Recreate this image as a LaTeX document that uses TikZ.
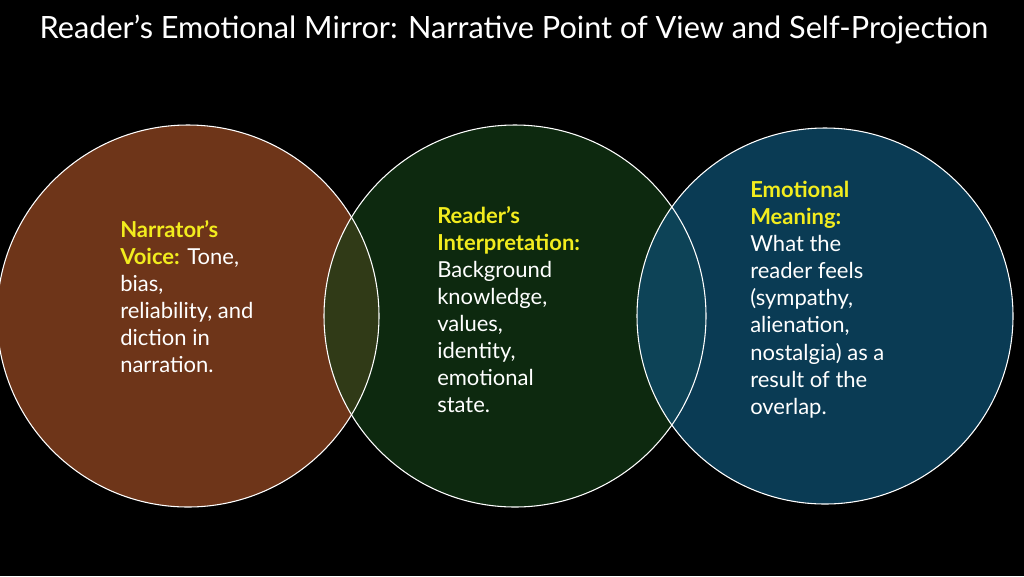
\documentclass[tikz,border=0pt]{standalone}
\usepackage{fontspec}
\setmainfont{Lato}
\begin{document}
\begin{tikzpicture}[x=0.75pt,y=-0.75pt,
  circ/.style={draw=white, line width=0.8pt},
  txt/.style={anchor=north west, align=left, text=white, font=\fontsize{16.5}{20.3}\selectfont, inner sep=0pt}]
\fill[black] (0,0) rectangle (1024,576);
\useasboundingbox (0,0) rectangle (1024,576);
\node[text=white, font=\fontsize{23}{28}\selectfont] (title) at (514,30) {Reader’s Emotional Mirror: Narrative Point of View and Self-Projection};
\definecolor{brn}{HTML}{6E3519}
\definecolor{grn}{HTML}{143D17}
\definecolor{blu}{HTML}{0D4A6A}
\definecolor{yel}{HTML}{F2EC1E}
\fill[brn] (188,316) circle (191);
\fill[grn, fill opacity=0.68] (515,316) circle (191);
\fill[blu, fill opacity=0.8] (825,316) circle (188);
\draw[circ] (188,316) circle (191);
\draw[circ] (515,316) circle (191);
\draw[circ] (825,316) circle (188);
\node[txt] (t1) at (120,220) {\textcolor{yel}{\textbf{Narrator’s}}\\\textcolor{yel}{\textbf{Voice:}} Tone,\\bias,\\reliability, and\\diction in\\narration.};
\node[txt] (t2) at (437,206) {\textcolor{yel}{\textbf{Reader’s}}\\\textcolor{yel}{\textbf{Interpretation:}}\\Background\\knowledge,\\values,\\identity,\\emotional\\state.};
\node[txt] (t3) at (750,181) {\textcolor{yel}{\textbf{Emotional}}\\\textcolor{yel}{\textbf{Meaning:}}\\What the\\reader feels\\(sympathy,\\alienation,\\nostalgia) as a\\result of the\\overlap.};
\end{tikzpicture}
\end{document}
